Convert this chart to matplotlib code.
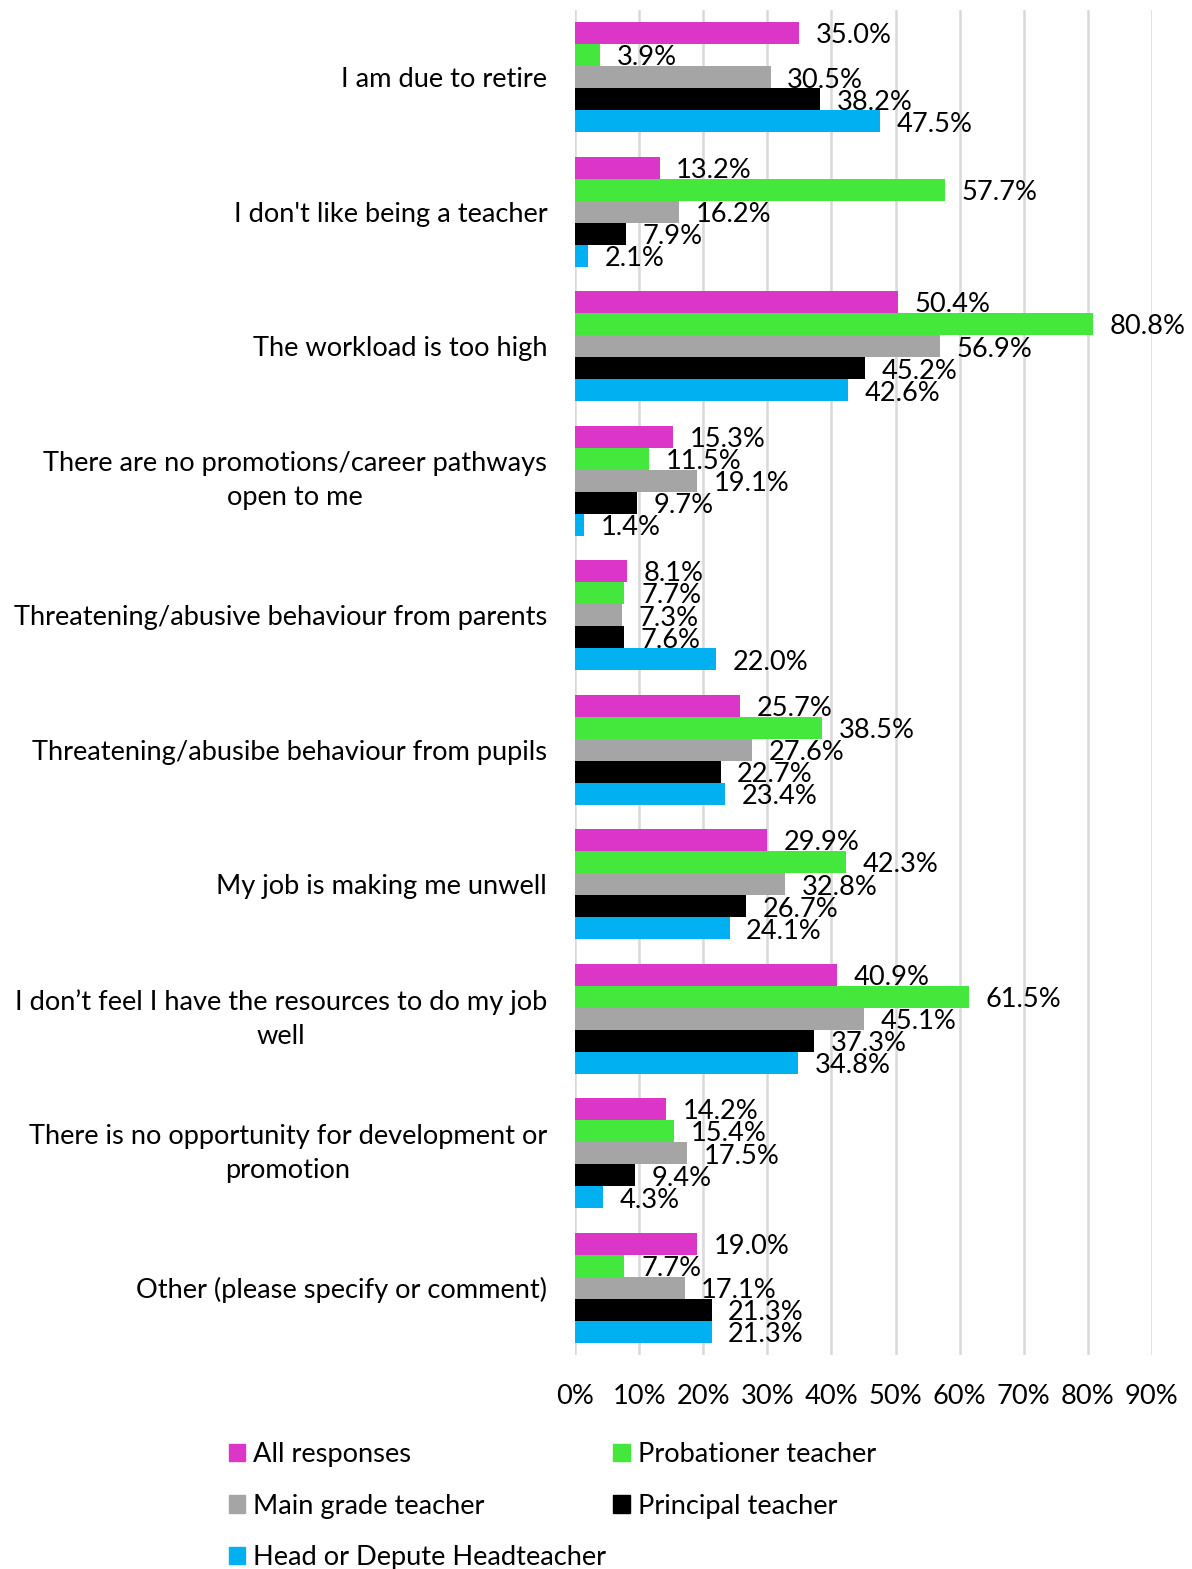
import numpy as np
import matplotlib.pyplot as plt
from matplotlib.patches import Patch

plt.rcParams['font.family'] = ['Lato', 'DejaVu Sans']

reasons = [
    "I am due to retire",
    "I don't like being a teacher",
    "The workload is too high",
    "There are no promotions/career pathways\nopen to me",
    "Threatening/abusive behaviour from parents",
    "Threatening/abusibe behaviour from pupils",
    "My job is making me unwell",
    "I don\u2019t feel I have the resources to do my job\nwell",
    "There is no opportunity for development or\npromotion",
    "Other (please specify or comment)",
]

all_responses = [35.0, 13.2, 50.4, 15.3, 8.1, 25.7, 29.9, 40.9, 14.2, 19.0]
probationer = [3.9, 57.7, 80.8, 11.5, 7.7, 38.5, 42.3, 61.5, 15.4, 7.7]
main_grade = [30.5, 16.2, 56.9, 19.1, 7.3, 27.6, 32.8, 45.1, 17.5, 17.1]
principal = [38.2, 7.9, 45.2, 9.7, 7.6, 22.7, 26.7, 37.3, 9.4, 21.3]
head = [47.5, 2.1, 42.6, 1.4, 22.0, 23.4, 24.1, 34.8, 4.3, 21.3]

series = [
    ("All responses", all_responses, "#DC36C8"),
    ("Probationer teacher", probationer, "#44E73B"),
    ("Main grade teacher", main_grade, "#A5A5A5"),
    ("Principal teacher", principal, "#000000"),
    ("Head or Depute Headteacher", head, "#00B0F0"),
]

fs = 19.6
fig = plt.figure(figsize=(11.92, 15.69), dpi=100)
ax = fig.add_axes([575 / 1192, 1 - 1355 / 1569, 577 / 1192, 1345 / 1569])

index = np.arange(len(reasons))
h = 0.82 / len(series)
for k, (name, vals, col) in enumerate(series):
    pos = index + (k - 2) * h
    ax.barh(pos, vals, height=h, color=col, label=name, zorder=3)
    for y, v in zip(pos, vals):
        ax.annotate(f"{v:.1f}%", (v, y), xytext=(12, -2), textcoords='offset points',
                    va='center', ha='left', fontsize=fs, zorder=4)

ax.set_xlim(0, 90)
ax.set_ylim(len(reasons) - 0.5, -0.5)
ax.set_xticks(np.arange(0, 91, 10))
ax.set_xticklabels([f"{t}%" for t in range(0, 91, 10)], fontsize=fs)
ax.set_yticks(index)
ax.set_yticklabels(reasons, fontsize=fs, multialignment='center', linespacing=1.45)
for lbl in ax.get_yticklabels():
    if "\n" in lbl.get_text():
        lbl.set_va('center')
ax.tick_params(axis='both', length=0)
ax.tick_params(axis='x', pad=21)
ax.tick_params(axis='y', pad=20)
ax.xaxis.grid(True, color='#D9D9D9', linewidth=1.8, zorder=0)
for s in ax.spines.values():
    s.set_visible(False)

handles = [Patch(color=c, label=n) for n, _, c in series]
order = [0, 2, 4, 1, 3]
fig.legend([handles[i] for i in order], [handles[i].get_label() for i in order],
           ncol=2, loc='upper left', bbox_to_anchor=(229 / 1192, 1 - 1442 / 1569),
           frameon=False, fontsize=fs, handlelength=0.6, handleheight=0.6,
           handletextpad=0.3, labelspacing=0.98, columnspacing=0.25,
           borderaxespad=0, borderpad=0)

fig.savefig("out.png", dpi=100)
